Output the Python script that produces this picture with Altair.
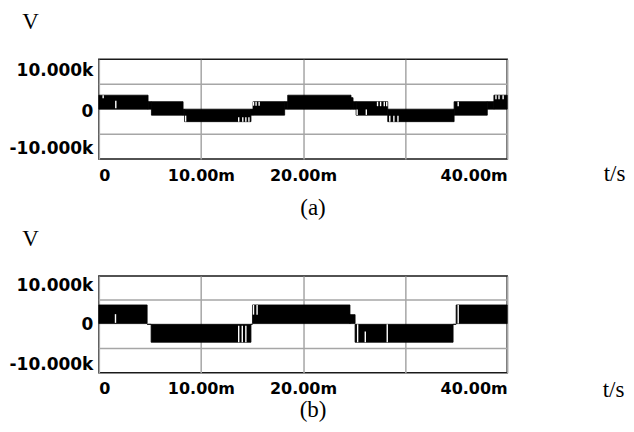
import altair as alt
import pandas as pd

# ---------------- data (time in ms, voltage in V) -------------
# panel (a): switching bands (start, end, low, high)
a_start = [0.0, 4.82, 5.15, 8.25, 8.40, 14.90, 15.10, 18.20, 18.50, 24.70, 24.90, 25.20, 28.30, 34.80, 38.05, 38.70]
a_end   = [4.82, 5.15, 8.25, 8.40, 14.90, 15.10, 18.20, 18.50, 24.70, 24.90, 25.20, 28.30, 34.80, 38.05, 38.70, 40.0]
a_lo    = [0, 0, -1200, -1200, -2500, -1200, -1200, 0, 0, 0, 0, -1200, -2500, -1200, 0, 0]
a_hi    = [2800, 1500, 1500, 0, 0, 0, 1500, 1500, 2800, 2300, 1500, 1500, 0, 1500, 1500, 2800]
# panel (a): white gaps inside the bands (time, low, high)
a_gap_t  = [0.42, 1.66, 8.50, 13.70, 14.10, 14.40, 14.70, 15.15, 15.40, 15.70, 25.30, 26.20,
            27.30, 27.60, 27.96, 28.20, 28.50, 28.90, 29.30, 35.20, 38.90, 39.20, 39.60]
a_gap_lo = [2200, 200, -2500, -2500, -2500, -2500, -2500, 700, 700, 700, -1150, -1150,
            600, 600, 600, 600, -2500, -2500, -2500, 600, 2000, 2000, 2000]
a_gap_hi = [2800, 1700, -1300, -1600, -1600, -1600, -1600, 1500, 1500, 1500, -50, -50,
            1500, 1500, 1500, 1500, -1300, -1300, -1300, 1500, 2800, 2800, 2800]

# panel (b)
b_start = [0.0, 4.73, 5.12, 14.90, 15.05, 24.60, 25.10, 34.70, 35.00]
b_end   = [4.73, 5.12, 14.90, 15.05, 24.60, 25.10, 34.70, 35.00, 40.0]
b_lo    = [150, 0, -3700, 0, 150, 150, -3700, 0, 150]
b_hi    = [4000, 0, 0, 0, 4000, 2000, 0, 0, 4000]
b_gap_t  = [1.63, 13.70, 14.05, 14.40, 15.15, 15.50, 25.35, 26.10, 28.25, 35.20]
b_gap_lo = [300, -3700, -3700, -3700, 2000, 2000, -3700, -3700, -3700, 150]
b_gap_hi = [2100, -300, -300, -300, 4000, 4000, 0, -1500, 0, 4000]

x_ticks = [0, 10, 20, 30, 40]
y_ticks = [-10000, 0, 10000]
y_grid = [-5000, 5000]

LABEL_FONT = "DejaVu Sans"
SERIF = "Liberation Serif"
GRID = "#a6a6a6"


def panel(start, end, lo, hi, gt, glo, ghi, name, height, vx, vy, tx, ty, lab_off, tdx, toff):
    seg = pd.DataFrame({"start": start, "end": end, "lo": lo, "hi": hi})
    gap = pd.DataFrame({"t": gt, "lo": glo, "hi": ghi})
    grid = pd.DataFrame({"g": y_grid})
    xs = alt.Scale(domain=[0, 40], nice=False, zero=False)
    ys = alt.Scale(domain=[-10000, 10000], nice=False, zero=False)
    x_axis = alt.Axis(
        values=x_ticks,
        labelExpr="datum.value == 30 ? '' : (datum.value == 0 ? '0' : format(datum.value, '.2f') + 'm')",
        labelFlush=True, labelOverlap=False, ticks=False, domain=False,
        labelFont=LABEL_FONT, labelFontSize=16, labelFontWeight="bold", labelColor="#000",
        labelPadding=8,
        grid=True, gridColor=GRID, gridWidth=1.5,
        title="t/s", titleFont=SERIF, titleFontSize=23, titleFontWeight="normal", titleColor="#000",
        titleX=tx, titleY=ty, titleAlign="center", titleBaseline="alphabetic", titleAngle=0,
    )
    y_axis = alt.Axis(
        values=y_ticks,
        labelExpr="datum.value == 10000 ? '10.000k' : (datum.value == -10000 ? '-10.000k' : '0')",
        labelOverlap=False, labelBound=False, ticks=False, domain=False,
        labelFont=LABEL_FONT, labelFontSize=17, labelFontWeight="bold", labelColor="#000",
        labelPadding=6, labelBaseline="middle",
        labelOffset={"condition": [{"test": "datum.value > 0", "value": lab_off[0]},
                                   {"test": "datum.value < 0", "value": lab_off[2]}],
                     "value": lab_off[1]},
        grid=False,
        title="V", titleFont=SERIF, titleFontSize=23, titleFontWeight="normal", titleColor="#000",
        titleX=vx, titleY=vy, titleAlign="center", titleBaseline="alphabetic", titleAngle=0,
    )
    hgrid = alt.Chart(grid).mark_rule(color=GRID, strokeWidth=1.5).encode(
        y=alt.Y("g:Q", scale=ys, axis=y_axis),
    )
    bands = alt.Chart(seg).mark_rect(color="#000", stroke="#000", strokeWidth=0.8).encode(
        x=alt.X("start:Q", scale=xs, axis=x_axis),
        x2="end:Q",
        y=alt.Y("lo:Q", scale=ys, axis=y_axis),
        y2="hi:Q",
    )
    gaps = alt.Chart(gap).mark_rule(color="#fff", strokeWidth=1.4).encode(
        x=alt.X("t:Q", scale=xs, axis=x_axis),
        y=alt.Y("lo:Q", scale=ys, axis=y_axis),
        y2="hi:Q",
    )
    return alt.layer(hgrid, bands, gaps).properties(
        width=409, height=height,
        view=alt.ViewBackground(stroke="#1a1a1a", strokeWidth=1.5),
        title=alt.TitleParams(name, orient="bottom", anchor="middle", frame="group",
                              font=SERIF, fontSize=23, fontWeight="normal", color="#000",
                              dx=tdx, offset=toff),
    )


pa = panel(a_start, a_end, a_lo, a_hi, a_gap_t, a_gap_lo, a_gap_hi, "(a)", 100,
           -69, -31, 516, 21, [11, 2, -11], 10, 12)
pb = panel(b_start, b_end, b_lo, b_hi, b_gap_t, b_gap_lo, b_gap_hi, "(b)", 97,
           -69, -30, 515, 24, [10, 0, -8], 10, -3)

chart = alt.vconcat(pa, pb, spacing=6).properties(
    padding={"left": 0, "top": 1, "right": 0, "bottom": 0}
).configure_view(stroke="#1a1a1a", strokeWidth=1.5)

chart.save("out.html", embed_options={"renderer": "svg", "actions": False})
